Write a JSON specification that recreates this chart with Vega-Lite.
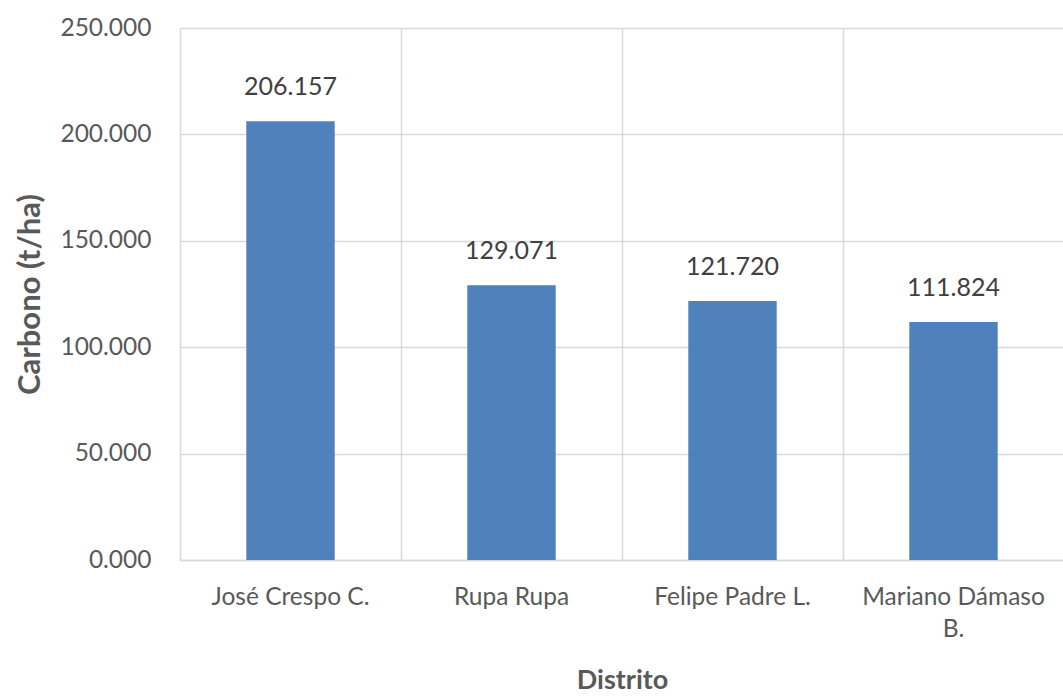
{
  "$schema": "https://vega.github.io/schema/vega-lite/v6.json",
  "autosize": {"type": "none"},
  "padding": {"left": 180, "top": 28, "right": 0, "bottom": 138},
  "width": 884,
  "height": 532,
  "background": "white",
  "config": {
    "font": "Lato",
    "view": {"stroke": null},
    "axis": {
      "labelFont": "Lato",
      "titleFont": "Lato",
      "labelColor": "#595959",
      "titleColor": "#595959",
      "gridColor": "#d9d9d9",
      "gridWidth": 1.5,
      "domainColor": "#d9d9d9",
      "domainWidth": 1.5,
      "ticks": false
    }
  },
  "data": {
    "values": [
      {"distrito": "José Crespo C.", "carbono": 206.157},
      {"distrito": "Rupa Rupa", "carbono": 129.071},
      {"distrito": "Felipe Padre L.", "carbono": 121.72},
      {"distrito": "Mariano Dámaso B.", "carbono": 111.824}
    ]
  },
  "encoding": {
    "x": {
      "field": "distrito",
      "type": "nominal",
      "sort": null,
      "scale": {"paddingInner": 0.6, "paddingOuter": 0.3},
      "axis": {
        "title": "Distrito",
        "labelAngle": 0,
        "labelFontSize": 24.5,
        "labelPadding": 25,
        "labelLineHeight": 32,
        "labelLimit": 400,
        "labelExpr": "datum.label == 'Mariano Dámaso B.' ? ['Mariano Dámaso', 'B.'] : datum.label",
        "titleFontSize": 27,
        "titleFontWeight": "bold",
        "titleBaseline": "middle",
        "titleY": 120,
        "grid": true,
        "bandPosition": -0.75
      }
    },
    "y": {
      "field": "carbono",
      "type": "quantitative",
      "scale": {"domain": [0, 250]},
      "axis": {
        "title": "Carbono (t/ha)",
        "values": [0, 50, 100, 150, 200, 250],
        "format": ".3f",
        "labelFontSize": 24.5,
        "labelPadding": 29,
        "titleFontSize": 31,
        "titleFontWeight": "bold",
        "titleX": -150,
        "titleBaseline": "middle",
        "domain": false,
        "grid": true
      }
    }
  },
  "layer": [
    {"mark": {"type": "bar", "color": "#4f81bd"}},
    {
      "mark": {"type": "text", "fontSize": 25, "color": "#404040", "dy": -34, "baseline": "middle", "font": "Lato"},
      "encoding": {"text": {"field": "carbono", "type": "quantitative", "format": ".3f"}}
    }
  ]
}
